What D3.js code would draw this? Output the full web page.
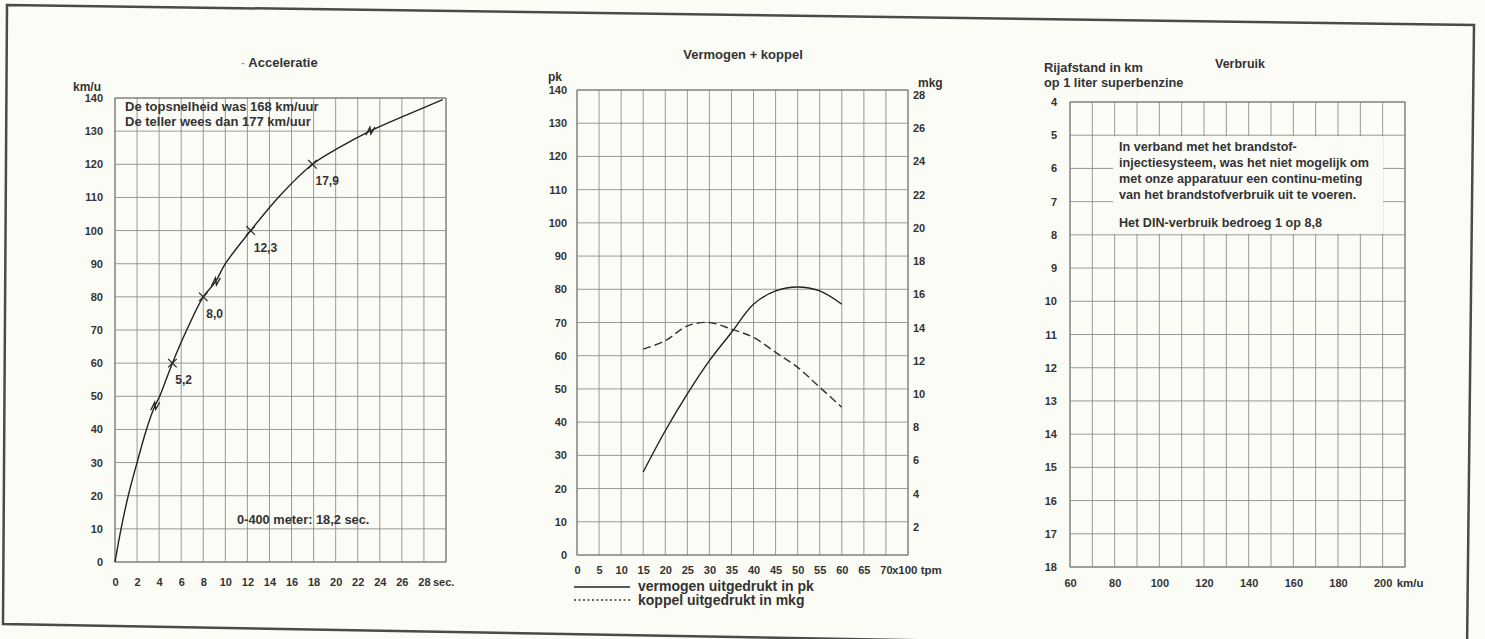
<!DOCTYPE html>
<html>
<head>
<meta charset="utf-8">
<script src="https://cdn.jsdelivr.net/npm/d3@7"></script>
<style>
body { margin: 0; background: #fcfcf7; }
svg text { font-family: "Liberation Sans", Arial, sans-serif; font-weight: bold; fill: #333; }
</style>
</head>
<body>
<script>
// --- Acceleratie (km/u against seconds) ---
var accelTime  = [0, 0.55, 1.2, 2.0, 2.85, 3.6, 4.05, 5.2, 6.5, 8.0, 9.1, 10.0, 12.3, 14.8, 17.9, 20.3, 23.1, 26.5, 29.7];
var accelSpeed = [0, 10, 20, 30, 40, 47, 50, 60, 70, 80, 84.5, 90, 100, 110, 120, 125, 130, 135, 139.5];
var markTime   = [5.2, 8.0, 12.3, 17.9];
var markSpeed  = [60, 80, 100, 120];
var markLabels = ["5,2", "8,0", "12,3", "17,9"];
var shiftTime  = [3.6, 9.1, 23.1];
var shiftSpeed = [47, 84.5, 130];
var secTicks   = [0, 2, 4, 6, 8, 10, 12, 14, 16, 18, 20, 22, 24, 26, 28];
var kmhTicks   = [0, 10, 20, 30, 40, 50, 60, 70, 80, 90, 100, 110, 120, 130, 140];

// --- Vermogen + koppel ---
var rpm       = [15, 20, 25, 30, 35, 40, 45, 50, 55, 60];
var powerPk   = [25, 37.4, 48.5, 58.5, 67, 75.5, 79.5, 80.7, 79.5, 75.5];
var torqueMkg = [12.4, 12.9, 13.8, 14.0, 13.6, 13.1, 12.2, 11.3, 10.1, 8.9];
var rpmTicks  = [0, 5, 10, 15, 20, 25, 30, 35, 40, 45, 50, 55, 60, 65, 70];
var pkTicks   = [0, 10, 20, 30, 40, 50, 60, 70, 80, 90, 100, 110, 120, 130, 140];
var mkgTicks  = [2, 4, 6, 8, 10, 12, 14, 16, 18, 20, 22, 24, 26, 28];

// --- Verbruik ---
var speedTicks = [60, 80, 100, 120, 140, 160, 180, 200];
var kmTicks    = [4, 5, 6, 7, 8, 9, 10, 11, 12, 13, 14, 15, 16, 17, 18];

var svg = d3.select("body").append("svg")
    .attr("width", 1485)
    .attr("height", 639);

// outer frame of the scanned page (slightly skewed)
svg.append("path")
    .attr("d", "M7,5 L1474,25 L1467,650 L3,624 Z")
    .style("fill", "none")
    .style("stroke", "#4a4a4a")
    .style("stroke-width", 2.5);

function grid(x, y, xs, ys) {
    var g = svg.append("g");
    var y0 = y.range()[0], y1 = y.range()[1];
    var x0 = x.range()[0], x1 = x.range()[1];
    g.selectAll(".v").data(xs).enter().append("line")
        .attr("x1", function (d) { return x(d); })
        .attr("x2", function (d) { return x(d); })
        .attr("y1", y0).attr("y2", y1)
        .style("stroke", "#8c8c8c").style("stroke-width", 0.9);
    g.selectAll(".h").data(ys).enter().append("line")
        .attr("y1", function (d) { return y(d); })
        .attr("y2", function (d) { return y(d); })
        .attr("x1", x0).attr("x2", x1)
        .style("stroke", "#8c8c8c").style("stroke-width", 0.9);
    g.append("rect")
        .attr("x", x0).attr("y", Math.min(y0, y1))
        .attr("width", x1 - x0).attr("height", Math.abs(y1 - y0))
        .style("fill", "none").style("stroke", "#777").style("stroke-width", 1);
    return g;
}

function ticks(axis, tx, ty, pad) {
    var g = svg.append("g")
        .attr("transform", "translate(" + tx + "," + ty + ")")
        .call(axis.tickSize(0).tickPadding(pad))
        .attr("font-size", 11);
    g.select(".domain").remove();
    return g;
}

function label(x, y, txt, anchor, size) {
    return svg.append("text")
        .attr("x", x).attr("y", y)
        .attr("text-anchor", anchor || "start")
        .attr("font-size", size || 11)
        .text(txt);
}

// ================= Acceleratie =================
var ax = d3.scaleLinear().domain([0, 30]).range([115, 446]);
var ay = d3.scaleLinear().domain([0, 140]).range([562, 98]);

grid(ax, ay, d3.range(0, 31, 2), d3.range(0, 141, 10));

ticks(d3.axisLeft(ay).tickValues(kmhTicks), 115, 0, 12);
ticks(d3.axisBottom(ax).tickValues(secTicks), 0, 562, 16);
label(ax(28) + 9, 586, "sec.", "start");

label(73, 91, "km/u", "start", 12);
label(243, 66, "-", "middle", 10).style("fill", "#999");
label(283, 67, "Acceleratie", "middle", 13);

label(125, 111, "De topsnelheid was 168 km/uur", "start", 13);
label(125, 126, "De teller wees dan 177 km/uur", "start", 13);
label(237, 524, "0-400 meter: 18,2 sec.", "start", 12.8);

var accelLine = d3.line()
    .x(function (d, i) { return ax(accelTime[i]); })
    .y(function (d, i) { return ay(accelSpeed[i]); })
    .curve(d3.curveCatmullRom);

svg.append("path")
    .datum(accelSpeed)
    .attr("d", accelLine)
    .style("fill", "none")
    .style("stroke", "#222")
    .style("stroke-width", 1.4);

// little zig-zags where the gear is changed
svg.selectAll(".shift").data(shiftTime).enter().append("path")
    .attr("transform", function (d, i) {
        return "translate(" + ax(d) + "," + ay(shiftSpeed[i]) + ")";
    })
    .attr("d", "M-4,4 L0,-4 L1,3 L5,-4")
    .style("fill", "none")
    .style("stroke", "#222")
    .style("stroke-width", 1.3);

var cross = d3.symbol().type(d3.symbolX).size(50);
svg.selectAll(".mark").data(markTime).enter().append("path")
    .attr("transform", function (d, i) {
        return "translate(" + ax(d) + "," + ay(markSpeed[i]) + ")";
    })
    .attr("d", cross)
    .style("fill", "none")
    .style("stroke", "#222")
    .style("stroke-width", 1.2);

svg.selectAll(".marklbl").data(markLabels).enter().append("text")
    .attr("x", function (d, i) { return ax(markTime[i]) + 3; })
    .attr("y", function (d, i) { return ay(markSpeed[i]) + 21; })
    .attr("font-size", 12)
    .text(function (d) { return d; });

// ================= Vermogen + koppel =================
var px = d3.scaleLinear().domain([0, 75]).range([577, 908]);
var py = d3.scaleLinear().domain([0, 140]).range([555, 90]);
var my = d3.scaleLinear().domain([0, 28]).range([555, 90]);

grid(px, py, d3.range(0, 76, 5), d3.range(0, 141, 10));

ticks(d3.axisLeft(py).tickValues(pkTicks), 577, 0, 10);
ticks(d3.axisRight(my).tickValues(mkgTicks), 908, 5, 5);
ticks(d3.axisBottom(px).tickValues(rpmTicks), 0, 555, 11);
label(px(70) + 6, 574, "x100 tpm", "start", 11.5);

label(548, 81, "pk", "start", 12);
label(918, 87, "mkg", "start", 12);
label(743, 59, "Vermogen + koppel", "middle", 13);

var powerLine = d3.line()
    .x(function (d, i) { return px(rpm[i]); })
    .y(function (d) { return py(d); })
    .curve(d3.curveCatmullRom);

var torqueLine = d3.line()
    .x(function (d, i) { return px(rpm[i]); })
    .y(function (d) { return my(d); })
    .curve(d3.curveCatmullRom);

svg.append("path")
    .datum(powerPk)
    .attr("d", powerLine)
    .style("fill", "none")
    .style("stroke", "#222")
    .style("stroke-width", 1.4);

svg.append("path")
    .datum(torqueMkg)
    .attr("d", torqueLine)
    .style("fill", "none")
    .style("stroke", "#333")
    .style("stroke-width", 1.4)
    .style("stroke-dasharray", "8,4");

// legend
svg.append("line")
    .attr("x1", 574).attr("x2", 630).attr("y1", 587).attr("y2", 587)
    .style("stroke", "#222").style("stroke-width", 1.4);
svg.append("line")
    .attr("x1", 574).attr("x2", 630).attr("y1", 600).attr("y2", 600)
    .style("stroke", "#333").style("stroke-width", 1.6)
    .style("stroke-dasharray", "2,2.5");
label(638, 591, "vermogen uitgedrukt in pk", "start", 14);
label(638, 605, "koppel uitgedrukt in mkg", "start", 14);

// ================= Verbruik =================
var vx = d3.scaleLinear().domain([60, 210]).range([1070, 1405]);
var vy = d3.scaleLinear().domain([4, 18]).range([102, 567]);

grid(vx, vy, d3.range(60, 211, 10), d3.range(4, 19, 1));

// blank panel for the note
svg.append("rect")
    .attr("x", 1113)
    .attr("y", vy(5) + 1)
    .attr("width", 270)
    .attr("height", vy(8) - vy(5) - 2)
    .style("fill", "#fcfcf7");

ticks(d3.axisLeft(vy).tickValues(kmTicks), 1070, 0, 13);
ticks(d3.axisBottom(vx).tickValues(speedTicks), 0, 567, 12);
label(vx(200) + 14, 587, "km/u", "start", 11.5);

label(1044, 72, "Rijafstand in km", "start", 12.8);
label(1044, 87, "op 1 liter superbenzine", "start", 12.8);
label(1240, 68, "Verbruik", "middle", 12.5);

var note = ["In verband met het brandstof-",
    "injectiesysteem, was het niet mogelijk om",
    "met onze apparatuur een continu-meting",
    "van het brandstofverbruik uit te voeren."];
svg.selectAll(".note").data(note).enter().append("text")
    .attr("x", 1119)
    .attr("y", function (d, i) { return 151 + i * 16; })
    .attr("font-size", 12.6)
    .text(function (d) { return d; });
label(1119, 227, "Het DIN-verbruik bedroeg 1 op 8,8", "start", 12.6);
</script>
</body>
</html>
